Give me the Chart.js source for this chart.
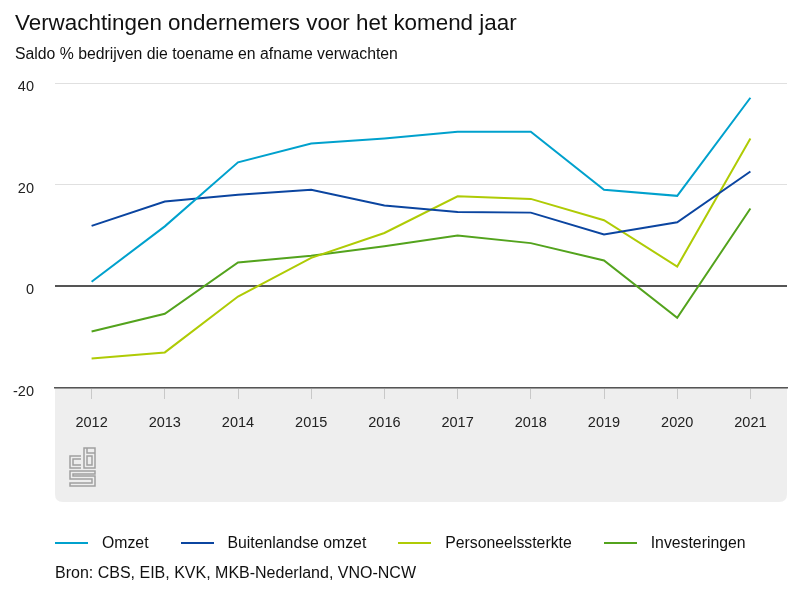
<!DOCTYPE html>
<html>
<head>
<meta charset="utf-8">
<script src="https://cdn.jsdelivr.net/npm/chart.js@4"></script>
<style>
  html, body { margin: 0; padding: 0; background: #fff; }
  body { width: 800px; height: 600px; position: relative; overflow: hidden;
         font-family: "Liberation Sans", Arial, sans-serif; color: #111; }
  #wrap { position: absolute; left: 0; top: 0; width: 800px; height: 600px; }
  .txt { position: absolute; left: 15px; line-height: 1; white-space: nowrap; }
  #title { top: 12px; font-size: 22.4px; }
  #subtitle { top: 46px; font-size: 15.8px; }
  #legend { position: absolute; left: 55px; top: 535px; display: flex; align-items: center;
            font-size: 15.8px; line-height: 1; }
  #legend .item { display: flex; align-items: center; margin-right: 32px; }
  #legend .swatch { width: 33px; height: 2px; margin-right: 14px; }
  #source { top: 565px; left: 55px; font-size: 16px; }
</style>
</head>
<body>
<div id="wrap"><canvas id="myChart" width="800" height="600"></canvas></div>
<div class="txt" id="title">Verwachtingen ondernemers voor het komend jaar</div>
<div class="txt" id="subtitle">Saldo % bedrijven die toename en afname verwachten</div>
<div id="legend"></div>
<div class="txt" id="source">Bron: CBS, EIB, KVK, MKB-Nederland, VNO-NCW</div>
<script>
(() => {
  'use strict'

  const years = ['2012', '2013', '2014', '2015', '2016', '2017', '2018', '2019', '2020', '2021']
  const omzet = [0.9, 11.8, 24.4, 28.1, 29.1, 30.4, 30.4, 19.0, 17.8, 37.1]
  const buitenlandseOmzet = [11.9, 16.7, 18.0, 19.0, 15.9, 14.6, 14.5, 10.2, 12.6, 22.6]
  const personeelssterkte = [-14.2, -13.0, -2.0, 5.6, 10.5, 17.7, 17.2, 13.0, 3.9, 29.1]
  const investeringen = [-8.9, -5.4, 4.7, 6.0, 7.9, 10.0, 8.5, 5.1, -6.2, 15.3]
  const seriesNames = ['Omzet', 'Buitenlandse omzet', 'Personeelssterkte', 'Investeringen']
  const seriesColors = ['#00a1cd', '#0b45a0', '#afcb05', '#53a31d']
  const yTicks = [-20, 0, 20, 40]

  const font = "'Liberation Sans', Arial, sans-serif"

  // grey band under the plot + cbs logo
  const bandPlugin = {
    id: 'band',
    beforeDraw (chart) {
      const { ctx, chartArea } = chart
      const xs = chart.scales.x
      const l = chartArea.left
      const r = chartArea.right
      const t = chartArea.bottom
      const b = xs.bottom
      const rad = 8
      ctx.save()
      ctx.fillStyle = '#eeeeee'
      ctx.beginPath()
      ctx.moveTo(l, t)
      ctx.lineTo(r, t)
      ctx.lineTo(r, b - rad)
      ctx.quadraticCurveTo(r, b, r - rad, b)
      ctx.lineTo(l + rad, b)
      ctx.quadraticCurveTo(l, b, l, b - rad)
      ctx.closePath()
      ctx.fill()

      // logo
      const ox = l + 15
      const oy = t + 60
      ctx.strokeStyle = '#a0a0a0'
      ctx.lineWidth = 1.5
      ctx.beginPath()
      // c
      ctx.moveTo(ox + 11, oy + 8); ctx.lineTo(ox, oy + 8); ctx.lineTo(ox, oy + 20); ctx.lineTo(ox + 11, oy + 20)
      ctx.moveTo(ox + 11, oy + 11); ctx.lineTo(ox + 3, oy + 11); ctx.lineTo(ox + 3, oy + 17); ctx.lineTo(ox + 11, oy + 17)
      // b
      ctx.rect(ox + 14, oy, 11, 20)
      ctx.rect(ox + 17, oy + 8, 5, 9)
      ctx.moveTo(ox + 17, oy); ctx.lineTo(ox + 17, oy + 5); ctx.lineTo(ox + 25, oy + 5)
      // s
      ctx.moveTo(ox + 25, oy + 23); ctx.lineTo(ox, oy + 23); ctx.lineTo(ox, oy + 31); ctx.lineTo(ox + 22, oy + 31)
      ctx.lineTo(ox + 22, oy + 35); ctx.lineTo(ox, oy + 35); ctx.lineTo(ox, oy + 38); ctx.lineTo(ox + 25, oy + 38)
      ctx.lineTo(ox + 25, oy + 28); ctx.lineTo(ox + 3, oy + 28); ctx.lineTo(ox + 3, oy + 26); ctx.lineTo(ox + 25, oy + 26)
      ctx.closePath()
      ctx.stroke()
      ctx.restore()
    }
  }

  const ctx = document.getElementById('myChart')
  // eslint-disable-next-line no-unused-vars
  const myChart = new Chart(ctx, {
    type: 'line',
    data: {
      labels: years,
      datasets: [omzet, buitenlandseOmzet, personeelssterkte, investeringen].map((d, i) => ({
        label: seriesNames[i],
        data: d,
        borderColor: seriesColors[i],
        backgroundColor: seriesColors[i],
        borderWidth: 2,
        pointRadius: 0,
        lineTension: 0,
        fill: false
      }))
    },
    options: {
      responsive: false,
      animation: false,
      layout: { padding: { left: 0, top: 83, right: 13, bottom: 98 } },
      plugins: {
        legend: { display: false },
        tooltip: { enabled: false }
      },
      scales: {
        x: {
          offset: true,
          border: { color: '#555555', width: 1.5 },
          grid: {
            offset: false,
            drawOnChartArea: false,
            drawTicks: true,
            tickLength: 11,
            tickColor: '#c8c8c8'
          },
          ticks: {
            padding: 15,
            color: '#222',
            font: { family: font, size: 14.5 },
            maxRotation: 0
          },
          afterFit (scale) { scale.height = 114 }
        },
        y: {
          min: -20,
          max: 40,
          border: { display: false },
          afterBuildTicks (scale) { scale.ticks = yTicks.map(v => ({ value: v })) },
          grid: {
            drawTicks: false,
            color: c => c.tick.value === 0 ? '#555555' : '#e0e0e0',
            lineWidth: c => c.tick.value === 0 ? 2 : 1
          },
          ticks: {
            padding: 21,
            labelOffset: 4,
            color: '#222',
            font: { family: font, size: 14.5 }
          },
          afterFit (scale) { scale.width = 55 }
        }
      }
    },
    plugins: [bandPlugin]
  })

  const legend = document.getElementById('legend')
  seriesNames.forEach((name, i) => {
    const item = document.createElement('div')
    item.className = 'item'
    const sw = document.createElement('span')
    sw.className = 'swatch'
    sw.style.background = seriesColors[i]
    const label = document.createElement('span')
    label.textContent = name
    item.appendChild(sw)
    item.appendChild(label)
    legend.appendChild(item)
  })
})()
</script>
</body>
</html>
